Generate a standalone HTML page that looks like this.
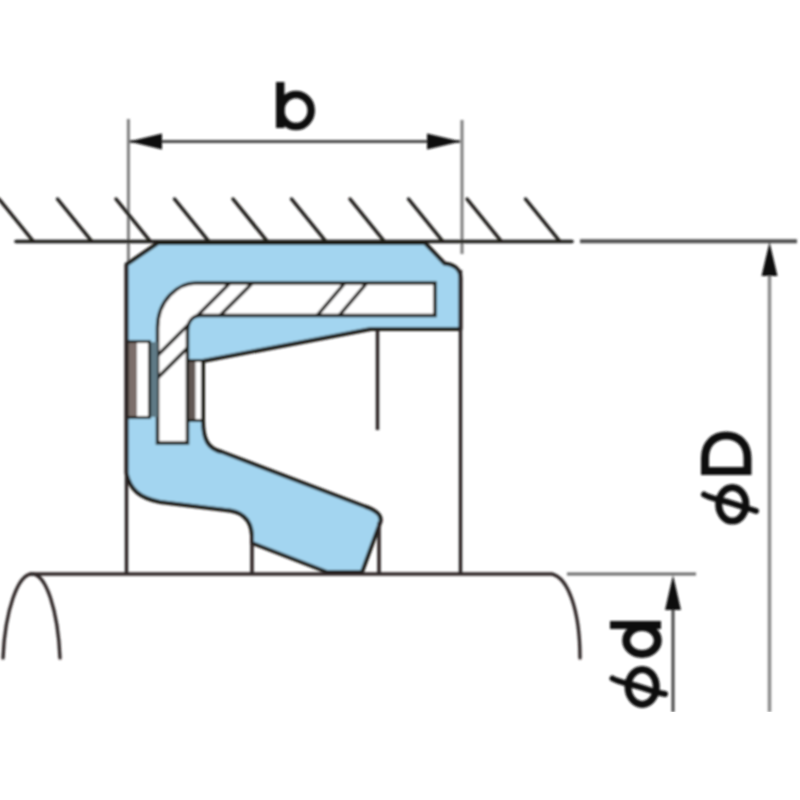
<!DOCTYPE html>
<html><head><meta charset="utf-8">
<style>
html,body{margin:0;padding:0;background:#fff;}
svg{display:block;}
text{font-family:"Liberation Sans",sans-serif;font-weight:bold;}
</style></head>
<body><div>
<svg width="800" height="800" viewBox="0 0 800 800">
<rect width="800" height="800" fill="#fff"/>
<defs>
<filter id="soft" x="-1%" y="-1%" width="102%" height="102%"><feGaussianBlur stdDeviation="0.8"/></filter>
<clipPath id="metal"><path d="M196,283 L435,283 L435,315.5 L201,315.5 C192,315.5 187.5,322 187.5,332 L187.5,443 L157.5,443 L157.5,328 C157.5,300 178,283 196,283 Z"/></clipPath>
</defs>

<g filter="url(#soft)">
<!-- dimension b -->
<g stroke="#7d7d7d" stroke-width="3" fill="none">
<line x1="128.4" y1="119" x2="128.4" y2="262"/>
<line x1="462" y1="120" x2="462" y2="254"/>
</g>
<line x1="130" y1="141.5" x2="460" y2="141.5" stroke="#4a4a4a" stroke-width="3"/>
<path d="M129,141.5 L162,133.5 L162,149.5 Z" fill="#111"/>
<path d="M461,141.5 L427,133.5 L427,149.5 Z" fill="#111"/>
<g fill="none" stroke="#111"><path d="M280.25,82 L280.25,128" stroke-width="8.5"/><ellipse cx="296" cy="110.5" rx="15.2" ry="16" stroke-width="7.5"/></g>

<!-- housing hatch -->
<g stroke="#1e1a18" stroke-width="3.5" stroke-linecap="round">
<line x1="16" y1="241.5" x2="572" y2="241.5"/>
<line x1="-1" y1="199" x2="33" y2="241"/>
<line x1="57.5" y1="199" x2="91.5" y2="241"/>
<line x1="116" y1="199" x2="150" y2="241"/>
<line x1="174.5" y1="199" x2="208.5" y2="241"/>
<line x1="233" y1="199" x2="267" y2="241"/>
<line x1="291.5" y1="199" x2="325.5" y2="241"/>
<line x1="350" y1="199" x2="384" y2="241"/>
<line x1="408.5" y1="199" x2="442.5" y2="241"/>
<line x1="467" y1="199" x2="501" y2="241"/>
<line x1="525.5" y1="199" x2="559.5" y2="241"/>
</g>
<line x1="580" y1="241.2" x2="797" y2="241.2" stroke="#505050" stroke-width="4"/>

<!-- seal body -->
<path d="M158,243 L425,243 L444.5,263.5 C452,264 460.5,268 460.5,278 L460.5,329 L371,329 L203,361 L203,420 C203,440 208,449 222,452 L365,506.5 Q384,513 380,523 L362,572 L327,572 L252,543 L252,535 C251,520 243,511 225,510 L160,502 C140,498 130,490 126.5,473 L126.5,264.5 Z" fill="#a3d5f0" stroke="#1e1a18" stroke-width="4" stroke-linejoin="round"/>

<!-- metal case -->
<path d="M196,283 L435,283 L435,315.5 L201,315.5 C192,315.5 187.5,322 187.5,332 L187.5,443 L157.5,443 L157.5,328 C157.5,300 178,283 196,283 Z" fill="#fff"/>
<g clip-path="url(#metal)" stroke="#1e1a18" stroke-width="3.4">
<line x1="240" y1="273" x2="140" y2="373"/>
<line x1="262.5" y1="273" x2="140" y2="395.5"/>
<line x1="352.5" y1="274" x2="309.5" y2="324.5"/>
<line x1="374.5" y1="274" x2="331.5" y2="324.5"/>
</g>
<path d="M196,283 L435,283 L435,315.5 L201,315.5 C192,315.5 187.5,322 187.5,332 L187.5,443 L157.5,443 L157.5,328 C157.5,300 178,283 196,283 Z" fill="none" stroke="#1e1a18" stroke-width="3.5"/>

<!-- left rect -->
<rect x="151" y="342" width="6.5" height="75" fill="#5f7a86"/>
<rect x="128" y="342" width="22" height="75" fill="#fff"/>
<rect x="128" y="342" width="9" height="75" fill="#7b6e6a"/>
<rect x="127" y="341.5" width="22.5" height="76" fill="none" stroke="#1e1a18" stroke-width="3"/>
<!-- right rect -->
<rect x="189" y="361" width="13" height="59" fill="#fff"/>
<rect x="189" y="361" width="6.5" height="59" fill="#625854"/>
<rect x="187.5" y="360.5" width="15" height="60" fill="none" stroke="#1e1a18" stroke-width="3"/>

<!-- housing & inner verticals -->
<g stroke="#2a2424" stroke-width="3.5">
<line x1="126.5" y1="264" x2="126.5" y2="574"/>
<line x1="460.5" y1="270" x2="460.5" y2="574"/>
<line x1="377.5" y1="329" x2="377.5" y2="430"/>
<line x1="379" y1="522" x2="379" y2="574"/>
<line x1="252" y1="535" x2="252" y2="574"/>
</g>

<!-- shaft -->
<g stroke="#2e2828" stroke-width="3.4" fill="none" stroke-linecap="round">
<path d="M30,574 L552,574 C568,578 580,610 580,658"/>
<path d="M3,658 C5,610 18,574 32,574 C46,574 58,610 60,658"/>
</g>
<line x1="567" y1="574" x2="696" y2="574" stroke="#6a6a6a" stroke-width="3"/>

<!-- phi d -->
<line x1="673" y1="590" x2="673" y2="712" stroke="#444" stroke-width="3"/>
<path d="M673,575 L665,610 L681,610 Z" fill="#111"/>
<!-- phi D -->
<line x1="769.5" y1="260" x2="769.5" y2="712" stroke="#8a8a8a" stroke-width="3.5"/>
<path d="M769.5,242 L761.5,276 L777.5,276 Z" fill="#111"/>

<path d="M705,471 L705,458 C705,444 714,435.5 726.25,435.5 C738.5,435.5 747.5,444 747.5,458 L747.5,471 Z" fill="none" stroke="#111" stroke-width="8"/>
<g stroke="#111" stroke-width="6" fill="none" stroke-linecap="round">
<ellipse cx="732.3" cy="504.3" rx="13.6" ry="16.8" stroke-width="7"/>
<path d="M704,494.5 C708,497 712,498 718,499.5 C728,501.5 737,505 745,507.5 C750,509 753,510 756,511"/>
</g>
<g fill="none" stroke="#111" stroke-width="8"><path d="M610,625 L661,625"/><ellipse cx="642" cy="640.5" rx="15.8" ry="13.5"/></g>
<g stroke="#111" stroke-width="6" fill="none" stroke-linecap="round">
<ellipse cx="642.2" cy="686.9" rx="14.1" ry="17.5" stroke-width="7"/>
<path d="M612.5,678.5 C617,681 621,682 627,683.5 C637,685.5 646,689 654,691.5 C659,693 662,693.5 665,694"/>
</g>
</g>
<rect x="0" y="712" width="800" height="88" fill="#fff"/>
</svg></div>
</body></html>
